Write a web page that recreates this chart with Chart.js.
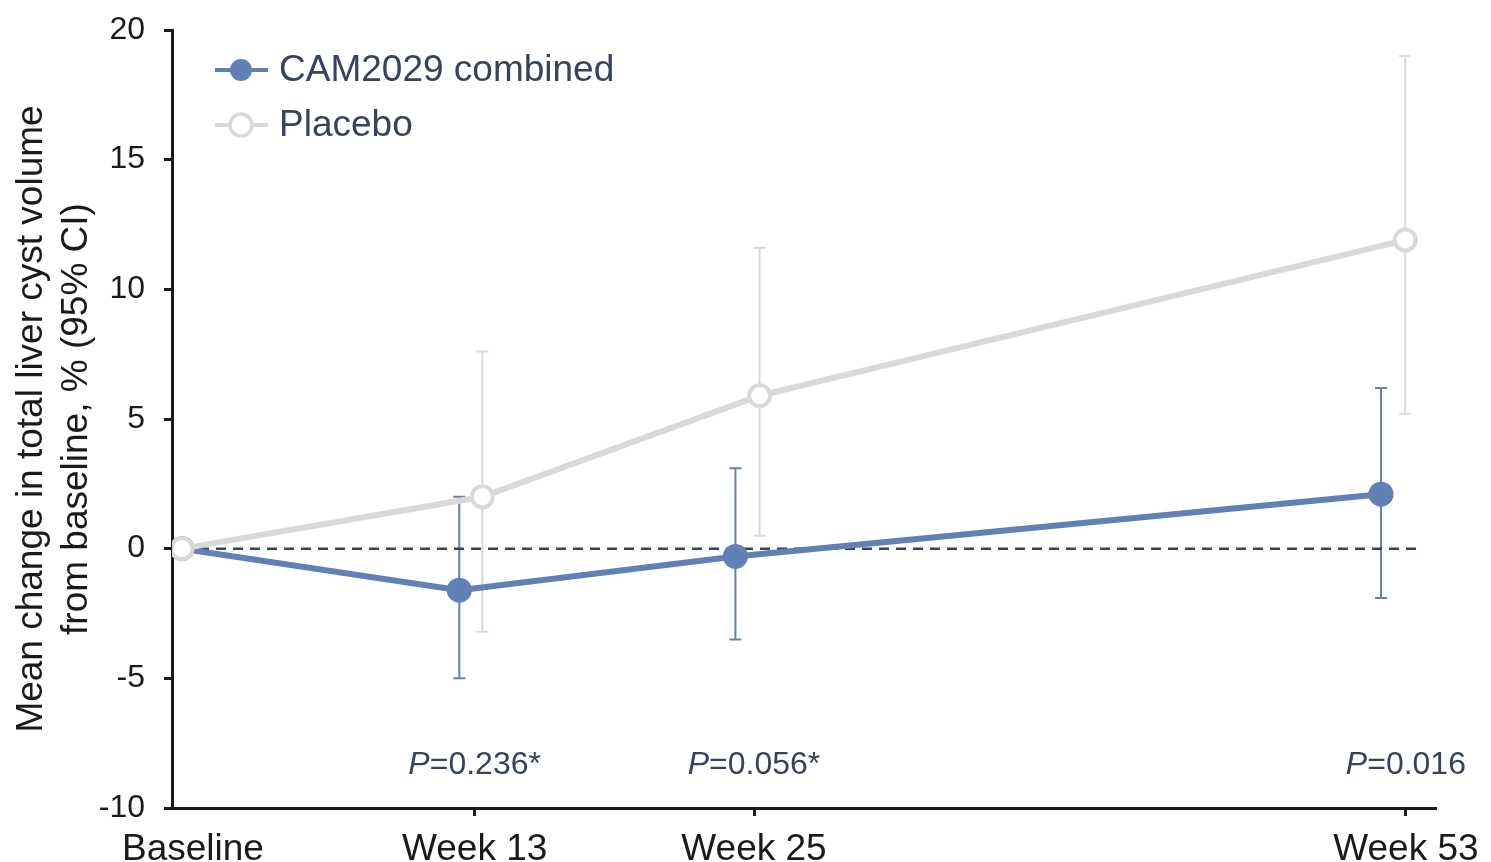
<!DOCTYPE html>
<html>
<head>
<meta charset="utf-8">
<script src="https://cdn.jsdelivr.net/npm/chart.js@4"></script>
<style>
  html, body { margin: 0; padding: 0; background: #fff; }
  #wrap { width: 1491px; height: 862px; position: relative; }
</style>
</head>
<body>
<div id="wrap"><canvas id="cystChart"></canvas></div>
<script>
// tick labels on the x axis (weeks) and where they sit
const xTickLabels = ['Baseline', 'Week 13', 'Week 25', 'Week 53'];
const xTickWeeks = [0.9, 13, 25, 53];

// CAM2029 combined (plotted slightly left of each visit)
const camWeeks = [0.43, 12.34, 24.2, 51.93];
const camMean = [0, -1.6, -0.3, 2.1];
const camLow = [null, -5.0, -3.5, -1.9];
const camHigh = [null, 2.0, 3.1, 6.2];

// Placebo (plotted slightly right of each visit)
const placeboWeeks = [0.43, 13.33, 25.24, 52.97];
const placeboMean = [0, 2.0, 5.9, 11.9];
const placeboLow = [null, -3.2, 0.5, 5.2];
const placeboHigh = [null, 7.6, 11.6, 19.0];

// reference line at zero
const zeroLineWeeks = [0.43, 53.6];

// p-values under each visit
const pWeeks = [13, 25, 53];
const pValues = ['=0.236*', '=0.056*', '=0.016'];

const BLUE = '#6180b5';
const GREY = '#d9d9d9';
const NAVY = '#38425f';
const INK = '#1a1a1a';
const FONT = 'Arial, "Liberation Sans", sans-serif';

const toPoints = (xs, ys) => xs.map((x, i) => ({ x, y: ys[i] }));

const errorBars = {
  id: 'errorBars',
  beforeDatasetsDraw(chart) {
    const { ctx, scales: { x, y } } = chart;
    const series = [
      { xs: camWeeks, lo: camLow, hi: camHigh, color: BLUE },
      { xs: placeboWeeks, lo: placeboLow, hi: placeboHigh, color: GREY }
    ];
    ctx.save();
    ctx.lineWidth = 2;
    series.forEach(s => {
      ctx.strokeStyle = s.color;
      s.xs.forEach((wk, i) => {
        if (s.lo[i] == null) return;
        const px = x.getPixelForValue(wk);
        const top = y.getPixelForValue(s.hi[i]);
        const bot = y.getPixelForValue(s.lo[i]);
        ctx.beginPath();
        ctx.moveTo(px, top); ctx.lineTo(px, bot);
        ctx.moveTo(px - 6, top); ctx.lineTo(px + 6, top);
        ctx.moveTo(px - 6, bot); ctx.lineTo(px + 6, bot);
        ctx.stroke();
      });
    });
    ctx.restore();
  }
};

const annotations = {
  id: 'annotations',
  afterDraw(chart) {
    const { ctx, chartArea, scales: { x, y } } = chart;
    ctx.save();
    // p-values
    ctx.textBaseline = 'middle';
    ctx.fillStyle = NAVY;
    const py = y.getPixelForValue(-8.35);
    pWeeks.forEach((wk, i) => {
      ctx.font = 'italic 32px ' + FONT;
      const wP = ctx.measureText('P').width;
      ctx.font = '32px ' + FONT;
      const wRest = ctx.measureText(pValues[i]).width;
      const start = x.getPixelForValue(wk) - (wP + wRest) / 2;
      ctx.textAlign = 'left';
      ctx.font = 'italic 32px ' + FONT;
      ctx.fillText('P', start, py);
      ctx.font = '32px ' + FONT;
      ctx.fillText(pValues[i], start + wP, py);
    });

    // legend
    const items = [
      { text: 'CAM2029 combined', color: BLUE, fill: BLUE, dy: 40 },
      { text: 'Placebo', color: GREY, fill: '#fff', dy: 95 }
    ];
    const lx = chartArea.left + 43;
    items.forEach(it => {
      const ly = chartArea.top + it.dy;
      ctx.strokeStyle = it.color;
      ctx.lineWidth = 4;
      ctx.beginPath();
      ctx.moveTo(lx, ly); ctx.lineTo(lx + 53, ly);
      ctx.stroke();
      ctx.beginPath();
      ctx.arc(lx + 26, ly, 11, 0, Math.PI * 2);
      ctx.fillStyle = it.fill;
      ctx.fill();
      if (it.fill === '#fff') { ctx.lineWidth = 3.5; ctx.stroke(); }
      ctx.fillStyle = NAVY;
      ctx.font = '37px ' + FONT;
      ctx.textAlign = 'left';
      ctx.fillText(it.text, lx + 64, ly + 1);
    });
    ctx.restore();
  }
};

const cystCtx = document.getElementById('cystChart');
new Chart(cystCtx, {
  type: 'line',
  data: {
    datasets: [
      {
        label: 'Placebo',
        data: toPoints(placeboWeeks, placeboMean),
        borderColor: GREY,
        backgroundColor: '#fff',
        borderWidth: 6,
        pointRadius: 10.5,
        pointBorderWidth: 4,
        pointBorderColor: GREY,
        pointBackgroundColor: '#fff',
        order: 0
      },
      {
        label: 'CAM2029 combined',
        data: toPoints(camWeeks, camMean),
        borderColor: BLUE,
        backgroundColor: BLUE,
        borderWidth: 6,
        pointRadius: 12.5,
        pointBorderWidth: 0,
        pointBackgroundColor: BLUE,
        order: 1
      },
      {
        label: 'zero',
        data: toPoints(zeroLineWeeks, [0, 0]),
        borderColor: NAVY,
        borderWidth: 2.5,
        borderDash: [10, 7],
        pointRadius: 0,
        order: 2
      }
    ]
  },
  options: {
    responsive: true,
    maintainAspectRatio: false,
    animation: false,
    layout: { padding: { left: 0, top: 30, right: 56, bottom: 0 } },
    plugins: { legend: { display: false }, tooltip: { enabled: false } },
    scales: {
      x: {
        type: 'linear',
        min: 0,
        max: 54.25,
        afterBuildTicks: s => { s.ticks = xTickWeeks.map(v => ({ value: v })); },
        afterFit: s => { s.height = 54; s.paddingLeft = 0; s.paddingRight = 0; },
        ticks: {
          autoSkip: false,
          maxRotation: 0,
          padding: 12,
          color: INK,
          font: { family: FONT, size: 37 },
          callback: (v, i) => xTickLabels[i]
        },
        grid: {
          drawOnChartArea: false,
          tickLength: 8,
          lineWidth: 3,
          tickColor: c => (c.index === 0 ? 'rgba(0,0,0,0)' : INK)
        },
        border: { color: INK, width: 3 }
      },
      y: {
        min: -10,
        max: 20,
        afterFit: s => { s.width = 172; s.paddingTop = 0; s.paddingBottom = 0; },
        ticks: {
          stepSize: 5,
          padding: 19,
          color: INK,
          font: { family: FONT, size: 32 }
        },
        grid: { drawOnChartArea: false, tickLength: 8, lineWidth: 3, tickColor: INK },
        border: { color: INK, width: 3 },
        title: {
          display: true,
          text: ['Mean change in total liver cyst volume', 'from baseline, % (95% CI)'],
          color: INK,
          padding: { top: 10, bottom: 0 },
          font: { family: FONT, size: 37, lineHeight: 1.2 }
        }
      }
    }
  },
  plugins: [errorBars, annotations]
});
</script>
</body>
</html>
